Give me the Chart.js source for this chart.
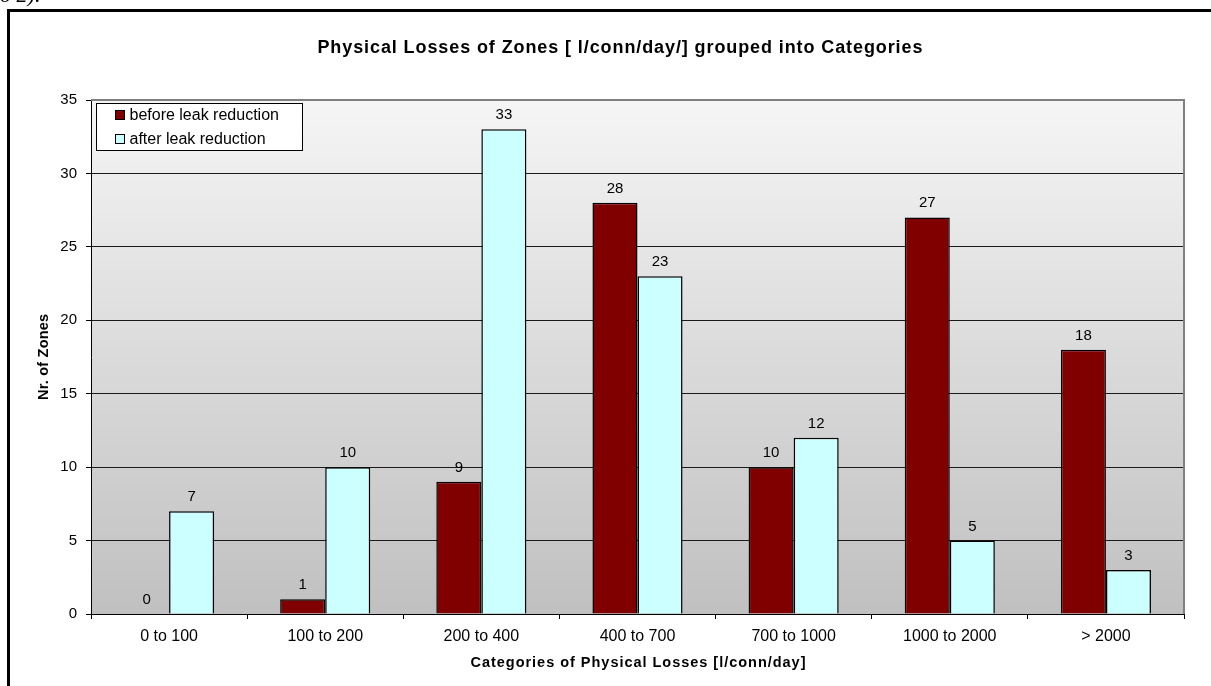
<!DOCTYPE html>
<html>
<head>
<meta charset="utf-8">
<script src="https://cdn.jsdelivr.net/npm/chart.js@4.4.1/dist/chart.umd.min.js"></script>
<style>
  body { margin: 0; background: #fff; overflow: hidden; }
  #wrap { position: relative; width: 1211px; height: 686px; }
  #frame {
    position: absolute; left: 7px; top: 9px; width: 1300px; height: 800px;
    border-left: 3px solid #000; border-top: 3px solid #000; pointer-events: none;
  }
  #clip {
    position: absolute; left: -6px; top: -16px; margin: 0;
    font: italic 22px "Liberation Serif", "Times New Roman", serif; line-height: 22px;
  }
</style>
</head>
<body>
<div id="wrap">
  <canvas id="chart"></canvas>
  <div id="frame"></div>
  <p id="clip">to 2).</p>
</div>
<script>
const categories = ['0 to 100', '100 to 200', '200 to 400', '400 to 700', '700 to 1000', '1000 to 2000', '> 2000'];
const beforeValues = [0, 1, 9, 28, 10, 27, 18];
const afterValues = [7, 10, 33, 23, 12, 5, 3];
const seriesNames = ['before leak reduction', 'after leak reduction'];
const yMin = 0, yMax = 35, yStep = 5;

const chartTitle = 'Physical Losses of Zones [ l/conn/day/] grouped into Categories';
const xTitle = 'Categories of Physical Losses [l/conn/day]';
const yTitle = 'Nr. of Zones';

const FONT = '"Liberation Sans", Arial, sans-serif';

// draw text with letter spacing stretched to a target width (Excel's bold titles run wide)
const spacedText = (ctx, text, x, y, width) => {
  ctx.letterSpacing = '0px';
  const w = ctx.measureText(text).width;
  const sp = Math.max(0, (width - w) / (text.length - 1));
  ctx.letterSpacing = sp + 'px';
  ctx.fillText(text, x + sp / 2, y);
  ctx.letterSpacing = '0px';
};

const backgroundPlugin = {
  id: 'backgroundPlugin',
  beforeDraw: (chart) => {
    const { ctx, chartArea: { left, top, right, bottom } } = chart;
    ctx.save();
    const g = ctx.createLinearGradient(0, top, 0, bottom);
    g.addColorStop(0, '#f5f5f5');
    g.addColorStop(1, '#c0c0c0');
    ctx.fillStyle = g;
    ctx.fillRect(left, top, right - left, bottom - top);
    ctx.restore();
  }
};

const frameAndTextPlugin = {
  id: 'frameAndTextPlugin',
  afterDatasetsDraw: (chart) => {
    const { ctx } = chart;
    ctx.save();
    ctx.fillStyle = '#000';
    ctx.font = '15px ' + FONT;
    ctx.textAlign = 'center';
    ctx.textBaseline = 'alphabetic';
    chart.data.datasets.forEach((ds, i) => {
      chart.getDatasetMeta(i).data.forEach((bar, j) => {
        ctx.fillText(String(ds.data[j]), bar.x, bar.y - 10);
      });
    });
    ctx.restore();
  },
  afterDraw: (chart) => {
    const { ctx, chartArea: { left, top, right, bottom } } = chart;
    ctx.save();
    // gray plot border on top and right
    ctx.strokeStyle = '#808080';
    ctx.lineWidth = 2;
    ctx.beginPath();
    ctx.moveTo(left, top);
    ctx.lineTo(right, top);
    ctx.lineTo(right, bottom);
    ctx.stroke();

    // legend box inside plot
    const lx = left + 5.5, ly = top + 3.5, lw = 206, lh = 47;
    ctx.fillStyle = '#fff';
    ctx.fillRect(lx, ly, lw, lh);
    ctx.strokeStyle = '#000';
    ctx.lineWidth = 1;
    ctx.strokeRect(lx, ly, lw, lh);
    ctx.font = '16px ' + FONT;
    ctx.textBaseline = 'middle';
    ctx.textAlign = 'left';
    chart.data.datasets.forEach((ds, i) => {
      const cy = ly + 11.5 + i * 24;
      ctx.fillStyle = ds.backgroundColor;
      ctx.fillRect(lx + 19, cy - 4.5, 9, 9);
      ctx.strokeRect(lx + 19, cy - 4.5, 9, 9);
      ctx.fillStyle = '#000';
      ctx.fillText(ds.label, lx + 33, cy + 1);
    });

    // titles
    ctx.fillStyle = '#000';
    ctx.textAlign = 'left';
    ctx.textBaseline = 'alphabetic';
    ctx.font = 'bold 18px ' + FONT;
    spacedText(ctx, chartTitle, 317, 53, 605);
    ctx.font = 'bold 14.5px ' + FONT;
    spacedText(ctx, xTitle, 470, 667, 335);
    ctx.translate(48, 357);
    ctx.rotate(-Math.PI / 2);
    spacedText(ctx, yTitle, -43, 0, 86);
    ctx.restore();
  }
};

new Chart(document.getElementById('chart'), {
  type: 'bar',
  data: {
    labels: categories,
    datasets: [
      {
        label: seriesNames[0],
        data: beforeValues,
        backgroundColor: '#800000',
        borderColor: '#000',
        borderWidth: 1.5,
        borderSkipped: 'bottom'
      },
      {
        label: seriesNames[1],
        data: afterValues,
        backgroundColor: '#ccffff',
        borderColor: '#000',
        borderWidth: 1.5,
        borderSkipped: 'bottom'
      }
    ]
  },
  options: {
    responsive: true,
    maintainAspectRatio: false,
    animation: false,
    events: [],
    layout: { padding: { top: 100, right: 27, bottom: 0, left: 0 } },
    datasets: { bar: { categoryPercentage: 0.577, barPercentage: 1.0 } },
    plugins: {
      legend: { display: false },
      title: { display: false },
      tooltip: { enabled: false }
    },
    scales: {
      x: {
        grid: {
          offset: true,
          drawOnChartArea: false,
          tickLength: 5,
          tickColor: '#000',
          lineWidth: 1
        },
        border: { color: '#000', width: 1 },
        ticks: { color: '#000', font: { family: FONT, size: 16 }, padding: 8, maxRotation: 0 },
        afterFit: (axis) => { axis.height = 72; }
      },
      y: {
        min: yMin,
        max: yMax,
        grid: {
          color: (c) => (c.tick && c.tick.value === yMax ? 'rgba(0,0,0,0)' : '#1a1a1a'),
          tickColor: '#000',
          tickLength: 5,
          lineWidth: 1
        },
        border: { color: '#000', width: 1 },
        ticks: { stepSize: yStep, color: '#000', font: { family: FONT, size: 15 }, padding: 9 },
        afterFit: (axis) => { axis.width = 91; }
      }
    }
  },
  plugins: [backgroundPlugin, frameAndTextPlugin]
});
</script>
</body>
</html>
